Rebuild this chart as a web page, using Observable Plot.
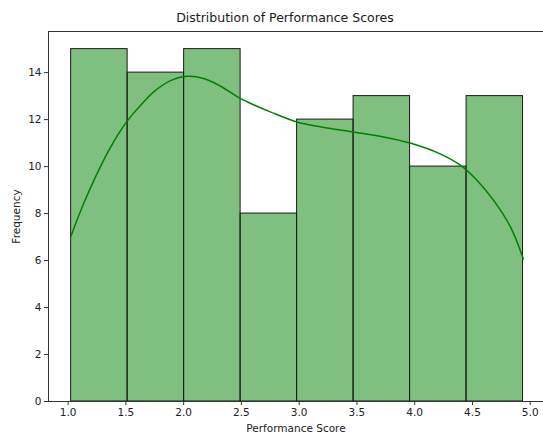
<!DOCTYPE html>
<html>
<head>
<meta charset="utf-8">
<script src="https://cdn.jsdelivr.net/npm/d3@7"></script>
<script src="https://cdn.jsdelivr.net/npm/@observablehq/plot@0.6"></script>
<style>
  html, body { margin: 0; padding: 0; background: #fff; }
  #wrap { position: relative; width: 543px; height: 432px; overflow: hidden; font-family: "DejaVu Sans", sans-serif; }
  #title { position: absolute; left: 0; width: 570px; top: 10px; text-align: center; font-size: 12.5px; color: #1a1a1a; }
</style>
</head>
<body>
<div id="wrap">
  <div id="title">Distribution of Performance Scores</div>
</div>
<script>
// Histogram bins: left edges, common width, counts
const binStart = 1.026;
const binWidth = 0.489;
const counts = [15, 14, 15, 8, 12, 13, 10, 13];

// Kernel density estimate, scaled to counts
const kdeX = [1.026, 1.121, 1.236, 1.352, 1.468, 1.554, 1.626, 1.741, 1.886, 2.03, 2.18, 2.32, 2.49, 2.62, 2.75, 2.98, 3.18, 3.47, 3.72, 3.96, 4.22, 4.397, 4.541, 4.685, 4.83, 4.94];
const kdeY = [7.06, 8.27, 9.55, 10.69, 11.64, 12.2, 12.6, 13.18, 13.66, 13.84, 13.74, 13.42, 12.9, 12.6, 12.33, 11.9, 11.7, 11.47, 11.27, 11.0, 10.54, 10.05, 9.41, 8.55, 7.42, 6.07];

const xTicks = [1.0, 1.5, 2.0, 2.5, 3.0, 3.5, 4.0, 4.5, 5.0];
const yTicks = [0, 2, 4, 6, 8, 10, 12, 14];

const bins = counts.map((c, i) => ({x1: binStart + i * binWidth, x2: binStart + (i + 1) * binWidth, count: c}));
const kde = kdeX.map((x, i) => ({x, y: kdeY[i]}));

const axisColor = "#333";

const chart = Plot.plot({
  width: 543,
  height: 432,
  marginLeft: 48,
  marginRight: 0,
  marginTop: 31,
  marginBottom: 31,
  style: {fontFamily: "DejaVu Sans, sans-serif", fontSize: "10px", color: "#222", background: "transparent"},
  x: {domain: [0.83, 5.115]},
  y: {domain: [0, 15.75]},
  marks: [
    Plot.rectY(bins, {x1: "x1", x2: "x2", y: "count", fill: "#008000", fillOpacity: 0.5, stroke: "#1a1a1a", strokeWidth: 1}),
    Plot.line(kde, {x: "x", y: "y", stroke: "#008000", strokeWidth: 1.5, curve: "catmull-rom"}),
    Plot.ruleX([0.83], {stroke: axisColor, strokeWidth: 1}),
    Plot.ruleY([0], {stroke: axisColor, strokeWidth: 1}),
    Plot.ruleY([15.75], {stroke: axisColor, strokeWidth: 1}),
    Plot.axisX({ticks: xTicks, tickFormat: d3.format(".1f"), tickSize: 4, tickPadding: 3, stroke: axisColor,
      label: "Performance Score", labelAnchor: "center", labelArrow: "none", labelOffset: 30, fontSize: 10.5}),
    Plot.axisY({ticks: yTicks, tickSize: 4, tickPadding: 3, stroke: axisColor,
      label: "Frequency", labelAnchor: "center", labelArrow: "none", labelOffset: 36, fontSize: 10.5})
  ]
});
chart.style.position = "absolute";
chart.style.left = "0";
chart.style.top = "0";
document.getElementById("wrap").appendChild(chart);
</script>
</body>
</html>
